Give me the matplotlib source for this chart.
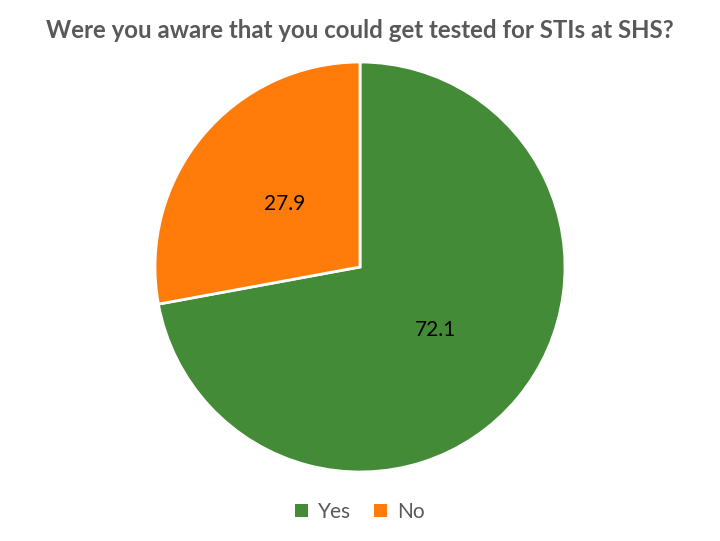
import matplotlib.pyplot as plt
from matplotlib.patches import Patch

labels = ['Yes', 'No']
values = [72.1, 27.9]
colors = ['#438B37', '#FF7B0A']

fig = plt.figure(figsize=(7.2, 5.41), dpi=100)
ax = fig.add_axes([155 / 720, 69 / 541, 410 / 720, 410 / 541])

wedges, texts = ax.pie(values, colors=colors, startangle=90, counterclock=False,
                       radius=1.0, labels=[f'{v:.1f}' for v in values], labeldistance=0.48,
                       wedgeprops=dict(edgecolor='white', linewidth=2),
                       textprops=dict(fontsize=15, family='Lato', color='black', ha='center', va='center'))
ax.set_xlim(-1, 1)
ax.set_ylim(-1, 1)
ax.set_aspect('equal')

fig.text(0.5, 1 - 30 / 541, 'Were you aware that you could get tested for STIs at SHS?',
         ha='center', va='center', fontsize=17.3, fontweight='bold', family='Lato', color='#595959')

handles = [Patch(facecolor=c, label=l) for c, l in zip(colors, labels)]
fig.legend(handles=handles, loc='center', bbox_to_anchor=(0.5, 1 - 512 / 541), ncol=2, frameon=False,
           prop=dict(family='Lato', size=15), handlelength=0.6, handleheight=0.6, handletextpad=0.5,
           columnspacing=1.1, labelcolor='#595959')

fig.savefig('out.png', dpi=100)
